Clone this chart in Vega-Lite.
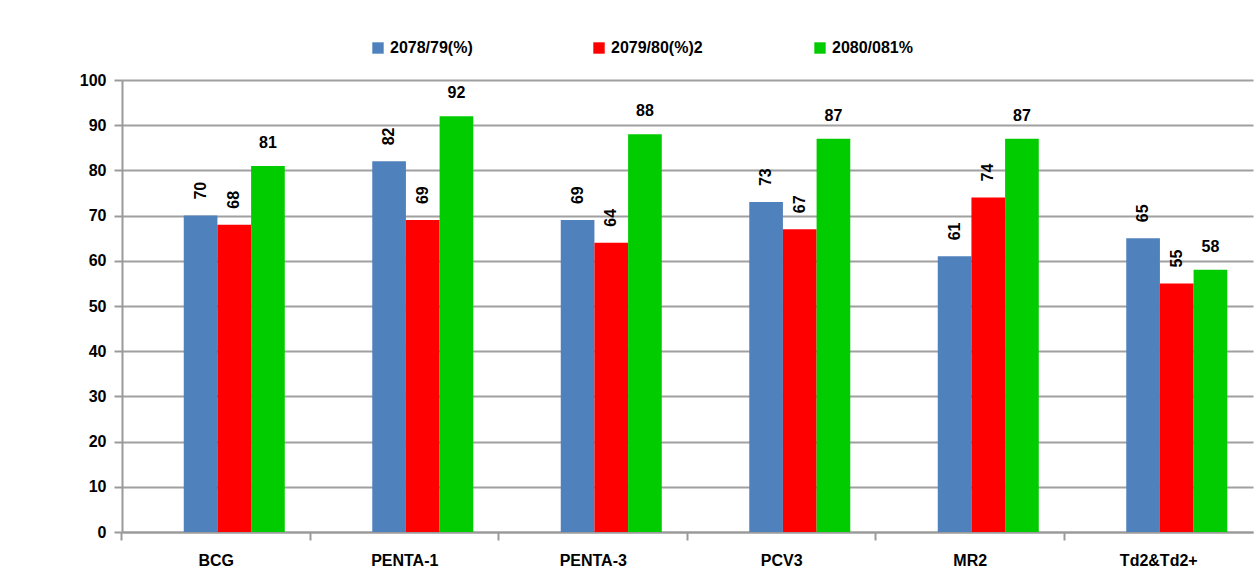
{
  "$schema": "https://vega.github.io/schema/vega-lite/v6.json",
  "autosize": "none",
  "width": 1131,
  "height": 452,
  "padding": {"left": 122, "top": 80, "right": 1, "bottom": 46},
  "background": "white",
  "data": {
    "values": [
      {"cat": "BCG", "series": "2078/79(%)", "value": 70},
      {"cat": "BCG", "series": "2079/80(%)2", "value": 68},
      {"cat": "BCG", "series": "2080/081%", "value": 81},
      {"cat": "PENTA-1", "series": "2078/79(%)", "value": 82},
      {"cat": "PENTA-1", "series": "2079/80(%)2", "value": 69},
      {"cat": "PENTA-1", "series": "2080/081%", "value": 92},
      {"cat": "PENTA-3", "series": "2078/79(%)", "value": 69},
      {"cat": "PENTA-3", "series": "2079/80(%)2", "value": 64},
      {"cat": "PENTA-3", "series": "2080/081%", "value": 88},
      {"cat": "PCV3", "series": "2078/79(%)", "value": 73},
      {"cat": "PCV3", "series": "2079/80(%)2", "value": 67},
      {"cat": "PCV3", "series": "2080/081%", "value": 87},
      {"cat": "MR2", "series": "2078/79(%)", "value": 61},
      {"cat": "MR2", "series": "2079/80(%)2", "value": 74},
      {"cat": "MR2", "series": "2080/081%", "value": 87},
      {"cat": "Td2&Td2+", "series": "2078/79(%)", "value": 65},
      {"cat": "Td2&Td2+", "series": "2079/80(%)2", "value": 55},
      {"cat": "Td2&Td2+", "series": "2080/081%", "value": 58}
    ]
  },
  "encoding": {
    "x": {
      "field": "cat", "type": "nominal", "sort": null,
      "scale": {"paddingInner": 0.273, "paddingOuter": 0.1365},
      "axis": {
        "title": null, "labelAngle": 0, "bandPosition": -0.1878,
        "labelFont": "Liberation Sans", "labelFontWeight": "bold", "labelFontSize": 16, "labelColor": "black",
        "labelPadding": 12, "tickSize": 8, "tickColor": "#9a9a9a", "tickWidth": 2, "ticks": true,
        "domainColor": "#9a9a9a", "domainWidth": 2, "grid": false
      }
    },
    "xOffset": {"field": "series", "type": "nominal", "sort": null, "scale": {"paddingInner": 0, "paddingOuter": 0.535, "align": 1}},
    "y": {
      "field": "value", "type": "quantitative",
      "scale": {"domain": [0, 100], "nice": false},
      "axis": {
        "title": null, "values": [0, 10, 20, 30, 40, 50, 60, 70, 80, 90, 100],
        "labelFont": "Liberation Sans", "labelFontWeight": "bold", "labelFontSize": 16, "labelColor": "black",
        "labelPadding": 8, "tickSize": 8, "tickColor": "#9a9a9a", "tickWidth": 2,
        "domainColor": "#9a9a9a", "domainWidth": 2,
        "grid": true, "gridColor": "#a0a0a0", "gridWidth": 2
      }
    }
  },
  "layer": [
    {
      "mark": {"type": "bar"},
      "encoding": {
        "color": {
          "field": "series", "type": "nominal", "sort": null,
          "scale": {"domain": ["2078/79(%)", "2079/80(%)2", "2080/081%"], "range": ["#4F81BD", "#FF0000", "#00CC00"]},
          "legend": {
            "title": null, "orient": "none", "direction": "horizontal",
            "legendX": 248, "legendY": -40,
            "symbolType": "square", "symbolSize": 130, "symbolStrokeWidth": 0,
            "labelFont": "Liberation Sans", "labelFontWeight": "bold", "labelFontSize": 16, "labelColor": "black",
            "labelOffset": 4, "gridAlign": "all", "columnPadding": 109
          }
        }
      }
    },
    {
      "transform": [{"filter": "datum.series !== '2080/081%'"}],
      "mark": {"type": "text", "angle": 270, "align": "left", "baseline": "middle", "dx": 16,
               "font": "Liberation Sans", "fontWeight": "bold", "fontSize": 16, "color": "black"},
      "encoding": {"text": {"field": "value", "type": "quantitative"}}
    },
    {
      "transform": [{"filter": "datum.series === '2080/081%'"}],
      "mark": {"type": "text", "align": "center", "baseline": "alphabetic", "dy": -18,
               "font": "Liberation Sans", "fontWeight": "bold", "fontSize": 16, "color": "black"},
      "encoding": {"text": {"field": "value", "type": "quantitative"}}
    }
  ],
  "config": {"view": {"stroke": null}}
}
